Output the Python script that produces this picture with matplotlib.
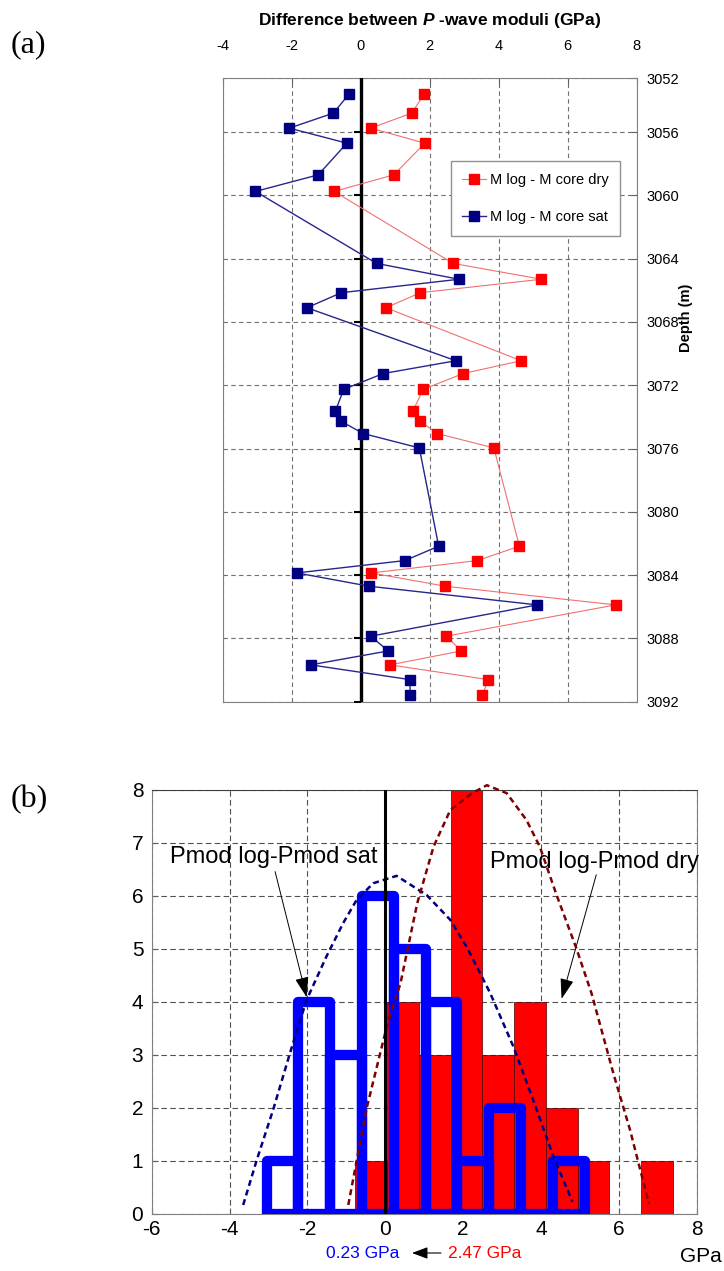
import numpy as np
import matplotlib
matplotlib.use('Agg')
import matplotlib.pyplot as plt

plt.rcParams['font.family'] = ['Liberation Sans', 'DejaVu Sans']
plt.rcParams['axes.unicode_minus'] = False
plt.rcParams['mathtext.fontset'] = 'custom'
plt.rcParams['mathtext.it'] = 'Liberation Sans:italic:bold'
plt.rcParams['mathtext.rm'] = 'Liberation Sans:bold'

# (a) diferenca entre modulos P (GPa) por profundidade (m)
depth = [3053.6, 3054.8, 3055.75, 3056.7, 3058.7, 3059.75, 3064.3, 3065.3, 3066.15,
         3067.1, 3070.45, 3071.26, 3072.26, 3073.65, 3074.26, 3075.05, 3075.96,
         3082.17, 3083.08, 3083.86, 3084.7, 3085.88, 3087.86, 3088.79, 3089.67,
         3090.6, 3091.6]
m_dry = [1.84, 1.48, 0.29, 1.86, 0.96, -0.77, 2.68, 5.24, 1.73, 0.73, 4.65, 2.97,
         1.81, 1.51, 1.71, 2.22, 3.86, 4.60, 3.38, 0.31, 2.45, 7.39, 2.48, 2.92,
         0.85, 3.69, 3.53]
m_sat = [-0.34, -0.79, -2.07, -0.40, -1.23, -3.05, 0.46, 2.85, -0.56, -1.56, 2.76,
         0.65, -0.49, -0.74, -0.58, 0.07, 1.70, 2.26, 1.28, -1.85, 0.24, 5.12, 0.29,
         0.80, -1.45, 1.42, 1.44]
depth_ticks = [3056, 3060, 3064, 3068, 3072, 3076, 3080, 3084, 3088, 3092]

# (b) histogramas (10 classes cada)
dry_counts = [1, 4, 3, 8, 3, 4, 2, 1, 0, 1]
sat_counts = [1, 4, 3, 6, 5, 4, 1, 2, 0, 1]

# curvas ajustadas
sat_fit_x = [-3.65, -3.30, -2.87, -2.45, -2.02, -1.51, -1.08, -0.74, -0.31, 0.29,
             1.06, 1.67, 2.09, 2.44, 2.70, 3.29, 3.80, 4.32, 4.81]
sat_fit_y = [0.17, 1.02, 1.99, 3.03, 4.04, 4.86, 5.49, 5.92, 6.24, 6.38,
             6.02, 5.55, 5.04, 4.54, 4.16, 3.16, 2.15, 1.08, 0.23]
dry_fit_x = [-0.95, -0.48, 0.06, 0.39, 0.82, 1.24, 1.67, 2.23, 2.61, 3.12, 3.63,
             3.97, 4.40, 4.91, 5.30, 5.86, 6.29, 6.77]
dry_fit_y = [0.17, 1.99, 3.60, 4.35, 5.86, 6.93, 7.62, 7.94, 8.09, 7.94, 7.43,
             6.93, 6.02, 5.01, 4.16, 2.65, 1.58, 0.20]

fig = plt.figure(figsize=(7.24, 12.71), dpi=100)

# ---------------- (a)
ax1 = fig.add_axes([0.3076, 0.4479, 0.5718, 0.4905])
ax1.axvline(0, color='k', lw=2.4, zorder=3)
ax1.plot([0] * len(depth_ticks), depth_ticks, ls='none', marker=0, ms=5, mew=1.5,
         color='k', zorder=3)
ax1.plot(m_dry, depth, '-s', color='#f07070', lw=0.8, ms=6.5, mfc='#ff0000',
         mec='#ff0000', label='M log - M core dry', zorder=4)
ax1.plot(m_sat, depth, '-s', color='#26268c', lw=1.0, ms=6.5, mfc='#000080',
         mec='#000080', label='M log - M core sat', zorder=4)
ax1.set_xlim(-4, 8)
ax1.set_ylim(3092, 3052.6)
ax1.xaxis.tick_top()
ax1.yaxis.tick_right()
ax1.set_xticks(range(-4, 9, 2))
ax1.set_yticks([3052.6] + depth_ticks)
ax1.set_yticklabels(['3052'] + [str(d) for d in depth_ticks])
ax1.tick_params(direction='in', length=4, labelsize=10.5, color='#606060')
ax1.tick_params(axis='x', pad=18)
ax1.tick_params(axis='y', pad=7)
ax1.grid(True, ls=(0, (4, 3)), color='#707070', lw=0.8)
for s in ax1.spines.values():
    s.set_color('#808080')
leg = ax1.legend(loc='upper left', bbox_to_anchor=(0.6225, 0.8733),
                 bbox_transform=fig.transFigure, borderaxespad=0, fontsize=10.5,
                 handlelength=1.6, handletextpad=0.3, labelspacing=1.6,
                 fancybox=False, borderpad=0.8, framealpha=1)
leg.get_frame().set_edgecolor('#909090')

fig.text(0.5935, 0.9837, 'Difference between $P$ -wave moduli (GPa)',
         ha='center', va='center', fontsize=12.5, fontweight='bold')
fig.text(686 / 724, 1 - 318 / 1271, 'Depth (m)', rotation=90, ha='center',
         va='center', fontsize=10.5, fontweight='bold')
fig.text(11 / 724, 1 - 45 / 1271, '(a)', family='Liberation Serif', fontsize=23,
         va='center')

# ---------------- (b)
ax2 = fig.add_axes([0.2095, 0.04485, 0.7528, 0.3336])
edges_dry = np.linspace(min(m_dry), max(m_dry), 11)
edges_sat = np.linspace(min(m_sat), max(m_sat), 11)
ax2.bar(edges_dry[:-1], dry_counts, width=np.diff(edges_dry), align='edge',
        color='#ff0000', edgecolor='#500000', lw=0.5, zorder=2)
ax2.bar(edges_sat[:-1], sat_counts, width=np.diff(edges_sat), align='edge',
        fill=False, edgecolor='#0000ff', lw=7.4, joinstyle='round', zorder=3)
ax2.plot(sat_fit_x, sat_fit_y, ls=(0, (2.4, 1.6)), color='#000080', lw=1.8,
         clip_on=False, zorder=4)
ax2.plot(dry_fit_x, dry_fit_y, ls=(0, (2.4, 1.6)), color='#800000', lw=1.8,
         clip_on=False, zorder=4)
ax2.axvline(0, color='k', lw=2.2, zorder=5)
ax2.set_xlim(-6, 8)
ax2.set_ylim(0, 8)
ax2.set_xticks(range(-6, 9, 2))
ax2.set_yticks(range(0, 9))
ax2.tick_params(direction='in', length=4, labelsize=15, color='#606060')
ax2.tick_params(axis='x', pad=4)
ax2.tick_params(axis='y', pad=6)
ax2.grid(True, ls=(0, (5, 3)), color='#505050', lw=0.8, zorder=1)
ax2.set_axisbelow(True)
for s in ax2.spines.values():
    s.set_color('#808080')
ax2.spines['top'].set_color('#404040')

arrow = dict(arrowstyle='-|>,head_length=0.9,head_width=0.3', color='k', lw=0.7,
             shrinkA=0, shrinkB=0, mutation_scale=14)
ax2.text(-5.54, 6.73, 'Pmod log-Pmod sat', fontsize=17, ha='left', va='center')
ax2.annotate('', xy=(-2.02, 4.09), xytext=(-2.83, 6.46), arrowprops=arrow)
ax2.text(2.68, 6.65, 'Pmod log-Pmod dry', fontsize=17, ha='left', va='center')
ax2.annotate('', xy=(4.53, 4.06), xytext=(5.42, 6.40), arrowprops=arrow)

yb = 1 - 1253 / 1271
fig.text(363 / 724, yb, '0.23 GPa', color='#0000ff', fontsize=12.5, ha='center',
         va='center')
fig.text(485 / 724, yb, '2.47 GPa', color='#ff0000', fontsize=12.5, ha='center',
         va='center')
ax2.annotate('', xy=(412 / 724, yb), xytext=(441 / 724, yb),
             xycoords='figure fraction', textcoords='figure fraction',
             arrowprops=dict(arrowstyle='-|>,head_length=0.8,head_width=0.3',
                             color='k', lw=0.8, shrinkA=0, shrinkB=0,
                             mutation_scale=12))
fig.text(722 / 724, 1 - 1256 / 1271, 'GPa', fontsize=15, ha='right', va='center')
fig.text(11 / 724, 1 - 800 / 1271, '(b)', family='Liberation Serif', fontsize=23,
         va='center')

fig.savefig('out.png', dpi=100)
